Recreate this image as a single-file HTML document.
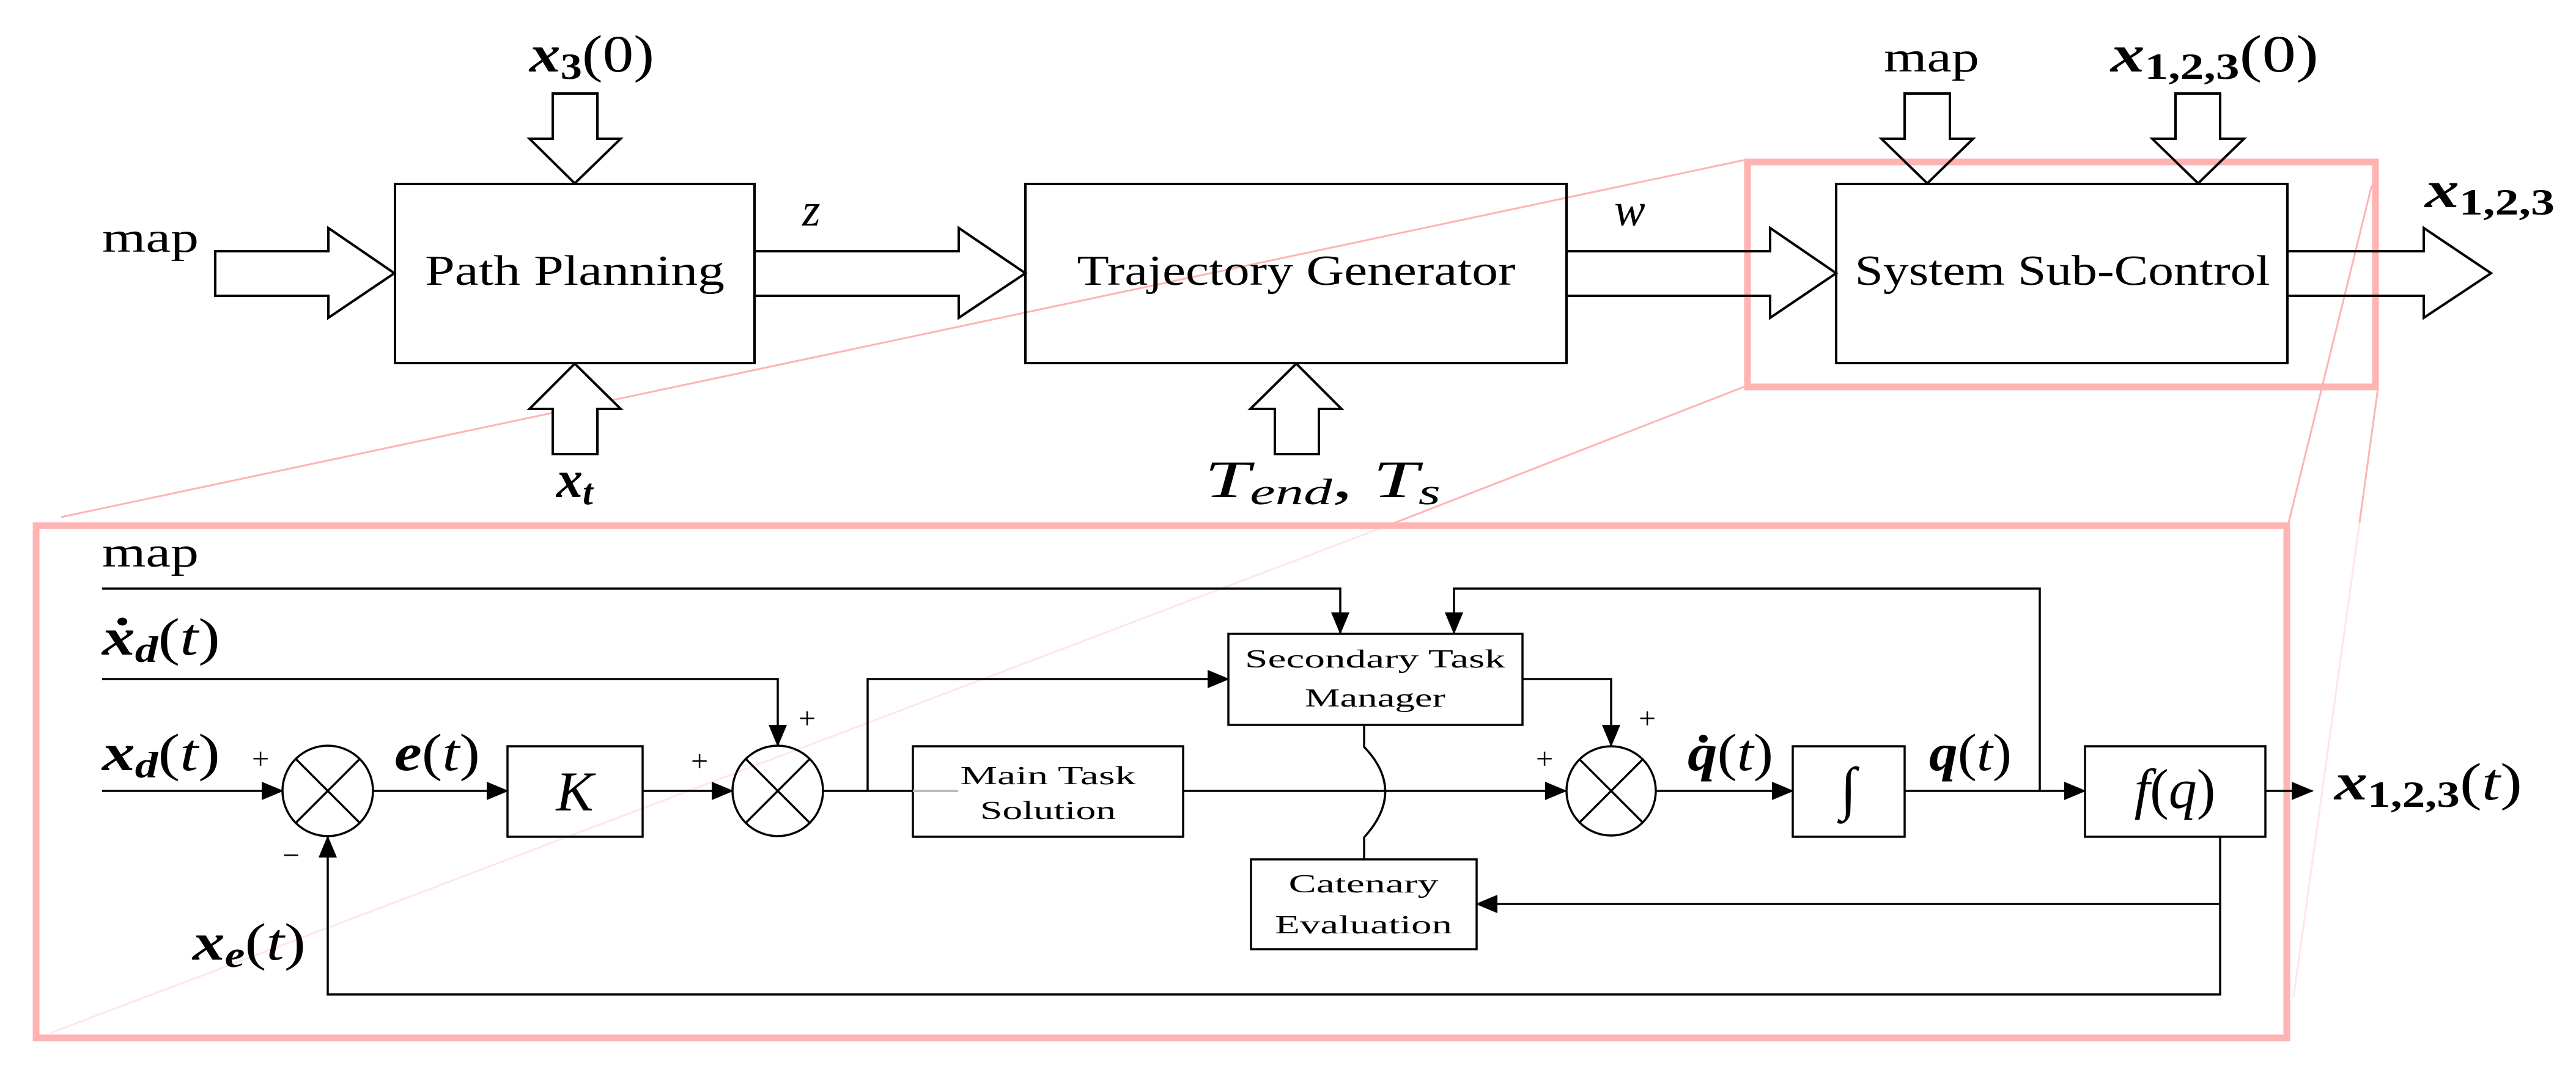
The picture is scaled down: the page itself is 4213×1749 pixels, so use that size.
<!DOCTYPE html>
<html><head><meta charset="utf-8"><style>
html,body{margin:0;padding:0;background:#fff;}
svg{display:block;}
text{font-family:"Liberation Serif",serif;fill:#000;}
.i{font-style:italic;}
.b{font-weight:bold;font-style:italic;}
</style></head><body>
<svg width="4213" height="1749" viewBox="0 0 4213 1749" xmlns="http://www.w3.org/2000/svg">
<defs>
<marker id="ah" markerWidth="36" markerHeight="30" refX="34" refY="15" orient="auto" markerUnits="userSpaceOnUse">
<path d="M0,0 L36,15 L0,30 Z" fill="#000"/></marker>
</defs>

<g stroke="#ffb3b3" stroke-width="3" fill="none">
<line x1="2852" y1="262" x2="100" y2="846"/>
<line x1="2852" y1="633" x2="2282" y2="855"/>
<line x1="3879" y1="303" x2="3743" y2="855"/>
<line x1="3889" y1="636" x2="3859" y2="855"/>
</g>
<g stroke="#ffe6e6" stroke-width="3" fill="none">
<line x1="2282" y1="855" x2="83" y2="1690"/>
<line x1="3859" y1="855" x2="3751" y2="1632"/>
</g>
<rect x="2858" y="265" width="1027" height="368" fill="none" stroke="#ffb3b3" stroke-width="11"/>
<rect x="59" y="860" width="3681" height="838" fill="none" stroke="#ffb3b3" stroke-width="11"/>

<g stroke="#000" stroke-width="4" fill="none">
<rect x="646" y="301" width="588" height="293"/>
<rect x="1677" y="301" width="885" height="293"/>
<rect x="3003" y="301" width="738" height="293"/>
<path d="M352,411 L537,411 L537,373 L645,447 L537,520 L537,484 L352,484 Z" fill="#fff"/>
<path d="M1234,411 L1568,411 L1568,373 L1677,447 L1568,520 L1568,484 L1234,484"/>
<path d="M2562,411 L2895,411 L2895,373 L3003,447 L2895,520 L2895,484 L2562,484"/>
<path d="M3741,411 L3964,411 L3964,373 L4074,447 L3964,520 L3964,484 L3741,484"/>
<path d="M904,153 L977,153 L977,227 L1015,227 L940,300 L866,227 L904,227 Z" fill="#fff"/>
<path d="M904,743 L977,743 L977,669 L1015,669 L940,595 L866,669 L904,669 Z" fill="#fff"/>
<path d="M2085,743 L2157,743 L2157,669 L2194,669 L2120,595 L2045,669 L2085,669 Z" fill="#fff"/>
<path d="M3115,153 L3189,153 L3189,227 L3227,227 L3152,300 L3077,227 L3115,227 Z"/>
<path d="M3558,153 L3631,153 L3631,227 L3670,227 L3595,300 L3520,227 L3558,227 Z"/>
</g>

<g font-size="70">
<text x="940" y="466" text-anchor="middle" textLength="490" lengthAdjust="spacingAndGlyphs">Path Planning</text>
<text x="2120" y="466" text-anchor="middle" textLength="717" lengthAdjust="spacingAndGlyphs">Trajectory Generator</text>
<text x="3373" y="466" text-anchor="middle" textLength="679" lengthAdjust="spacingAndGlyphs">System Sub-Control</text>
<text x="167" y="412" textLength="158" lengthAdjust="spacingAndGlyphs">map</text>
<text x="3081" y="117" textLength="156" lengthAdjust="spacingAndGlyphs">map</text>
<text x="1312" y="369" class="i" font-size="76">z</text>
<text x="2640" y="369" class="i" font-size="76">w</text>
<text x="866" y="117" font-size="86" textLength="204" lengthAdjust="spacingAndGlyphs"><tspan class="b">x</tspan><tspan font-size="60" font-weight="bold" dy="12">3</tspan><tspan dy="-12">(0)</tspan></text>
<text x="3452" y="117" font-size="86" textLength="340" lengthAdjust="spacingAndGlyphs"><tspan class="b">x</tspan><tspan font-size="60" font-weight="bold" dy="12">1,2,3</tspan><tspan dy="-12">(0)</tspan></text>
<text x="3966" y="339" font-size="86" textLength="212" lengthAdjust="spacingAndGlyphs"><tspan class="b">x</tspan><tspan font-size="60" font-weight="bold" dy="12">1,2,3</tspan></text>
<text x="910" y="813" font-size="86"><tspan class="b">x</tspan><tspan font-size="60" class="b" dy="12">t</tspan></text>
<text x="1970" y="813" font-size="86" textLength="386" lengthAdjust="spacingAndGlyphs"><tspan class="i">T</tspan><tspan font-size="60" class="i" dy="12">end</tspan><tspan dy="-12">, </tspan><tspan class="i">T</tspan><tspan font-size="60" class="i" dy="12">s</tspan></text>
</g>

<g stroke="#000" stroke-width="3.5" fill="none">
<polyline points="167,963 2192,963 2192,1036" marker-end="url(#ah)"/>
<polyline points="167,1111 1272,1111 1272,1220" marker-end="url(#ah)"/>
<line x1="167" y1="1294" x2="462" y2="1294" marker-end="url(#ah)"/>
<circle cx="536" cy="1294" r="74"/>
<line x1="484" y1="1242" x2="588" y2="1346"/><line x1="588" y1="1242" x2="484" y2="1346"/>
<line x1="610" y1="1294" x2="830" y2="1294" marker-end="url(#ah)"/>
<rect x="830" y="1221" width="221" height="148"/>
<line x1="1051" y1="1294" x2="1198" y2="1294" marker-end="url(#ah)"/>
<circle cx="1272" cy="1294" r="74"/>
<line x1="1220" y1="1242" x2="1324" y2="1346"/><line x1="1324" y1="1242" x2="1220" y2="1346"/>
<line x1="1346" y1="1294" x2="1493" y2="1294"/>
<polyline points="1419,1294 1419,1111 2009,1111" marker-end="url(#ah)"/>
<rect x="1493" y="1221" width="442" height="148"/>
<line x1="1935" y1="1294" x2="2561" y2="1294" marker-end="url(#ah)"/>
<rect x="2009" y="1037" width="481" height="149"/>
<path d="M2231,1186 L2231,1222 Q2300,1294 2231,1370 L2231,1406"/>
<rect x="2046" y="1406" width="369" height="147"/>
<polyline points="2490,1111 2635,1111 2635,1220" marker-end="url(#ah)"/>
<circle cx="2635" cy="1294" r="73"/>
<line x1="2583" y1="1242" x2="2687" y2="1346"/><line x1="2687" y1="1242" x2="2583" y2="1346"/>
<line x1="2708" y1="1294" x2="2932" y2="1294" marker-end="url(#ah)"/>
<rect x="2932" y="1221" width="183" height="148"/>
<line x1="3115" y1="1294" x2="3410" y2="1294" marker-end="url(#ah)"/>
<polyline points="3336,1294 3336,963 2378,963 2378,1036" marker-end="url(#ah)"/>
<rect x="3410" y="1221" width="295" height="148"/>
<line x1="3705" y1="1294" x2="3782" y2="1294" marker-end="url(#ah)"/>
<polyline points="3631,1369 3631,1627 536,1627 536,1369" marker-end="url(#ah)"/>
<line x1="3631" y1="1479" x2="2415" y2="1479" marker-end="url(#ah)"/>
</g>
<line x1="1493" y1="1294" x2="1567" y2="1294" stroke="#bbb" stroke-width="4"/>

<g font-size="70">
<text x="167" y="927" textLength="158" lengthAdjust="spacingAndGlyphs">map</text>
<text x="167" y="1071" font-size="86" textLength="193" lengthAdjust="spacingAndGlyphs"><tspan class="b">ẋ</tspan><tspan font-size="60" class="b" dy="12">d</tspan><tspan dy="-12">(</tspan><tspan class="i">t</tspan><tspan>)</tspan></text>
<text x="167" y="1260" font-size="86" textLength="193" lengthAdjust="spacingAndGlyphs"><tspan class="b">x</tspan><tspan font-size="60" class="b" dy="12">d</tspan><tspan dy="-12">(</tspan><tspan class="i">t</tspan><tspan>)</tspan></text>
<text x="645" y="1260" font-size="86" textLength="140" lengthAdjust="spacingAndGlyphs"><tspan class="b">e</tspan><tspan>(</tspan><tspan class="i">t</tspan><tspan>)</tspan></text>
<text x="940" y="1326" font-size="92" class="i" text-anchor="middle">K</text>
<text x="2760" y="1260" font-size="86" textLength="140" lengthAdjust="spacingAndGlyphs"><tspan class="b">q̇</tspan><tspan>(</tspan><tspan class="i">t</tspan><tspan>)</tspan></text>
<text x="3155" y="1260" font-size="86" textLength="135" lengthAdjust="spacingAndGlyphs"><tspan class="b">q</tspan><tspan>(</tspan><tspan class="i">t</tspan><tspan>)</tspan></text>
<text x="3023" y="1322" font-size="96" class="i" text-anchor="middle">∫</text>
<text x="3557" y="1322" font-size="92" text-anchor="middle"><tspan class="i">f</tspan>(<tspan class="i">q</tspan>)</text>
<text x="3818" y="1308" font-size="86" textLength="307" lengthAdjust="spacingAndGlyphs"><tspan class="b">x</tspan><tspan font-size="60" font-weight="bold" dy="12">1,2,3</tspan><tspan dy="-12">(</tspan><tspan class="i">t</tspan><tspan>)</tspan></text>
<text x="315" y="1570" font-size="86" textLength="185" lengthAdjust="spacingAndGlyphs"><tspan class="b">x</tspan><tspan font-size="60" class="b" dy="12">e</tspan><tspan dy="-12">(</tspan><tspan class="i">t</tspan><tspan>)</tspan></text>
</g>
<g font-size="50">
<text x="412" y="1258">+</text>
<text x="1130" y="1262">+</text>
<text x="1306" y="1192">+</text>
<text x="2512" y="1258">+</text>
<text x="2680" y="1192">+</text>
<text x="462" y="1416">−</text>
</g>
<g font-size="42" text-anchor="middle">
<text x="1714" y="1283" textLength="287" lengthAdjust="spacingAndGlyphs">Main Task</text>
<text x="1714" y="1340" textLength="222" lengthAdjust="spacingAndGlyphs">Solution</text>
<text x="2249" y="1092" textLength="426" lengthAdjust="spacingAndGlyphs">Secondary Task</text>
<text x="2249" y="1156" textLength="230" lengthAdjust="spacingAndGlyphs">Manager</text>
<text x="2230" y="1460" textLength="245" lengthAdjust="spacingAndGlyphs">Catenary</text>
<text x="2230" y="1527" textLength="290" lengthAdjust="spacingAndGlyphs">Evaluation</text>
</g>
</svg>
</body></html>
